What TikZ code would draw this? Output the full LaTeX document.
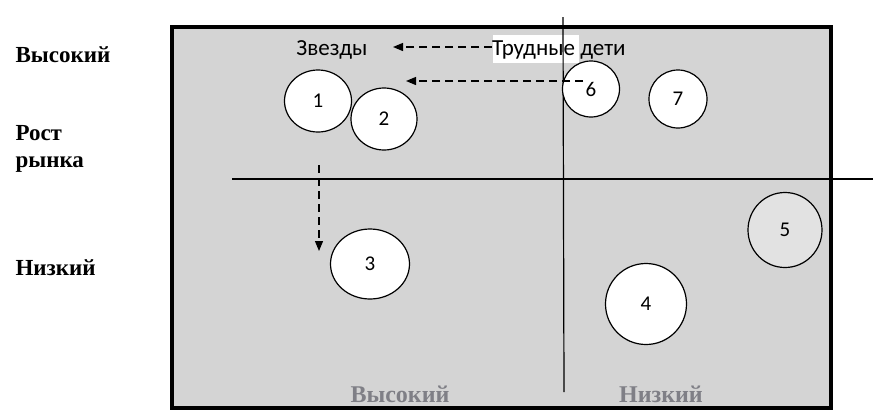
\documentclass[tikz,border=0pt]{standalone}
\usepackage{fontspec}
\setmainfont{Liberation Serif}
\newfontfamily\calib{Carlito}
\usetikzlibrary{shapes.geometric,arrows.meta}
\definecolor{panel}{HTML}{D4D4D4}
\definecolor{lightc}{HTML}{E2E2E2}
\definecolor{axisgray}{HTML}{7F7F86}
\tikzset{
  bub/.style={draw=black, line width=1.2pt, ellipse, fill=white, inner sep=0pt,
    font=\calib\fontsize{21}{24}\selectfont},
  side/.style={font=\bfseries\fontsize{23}{27}\selectfont, anchor=west, align=left},
  bottom/.style={font=\bfseries\fontsize{24}{28}\selectfont, text=axisgray},
  lab/.style={font=\calib\fontsize{23}{26}\selectfont, inner sep=0pt},
  darr/.style={dashed, dash pattern=on 8pt off 5pt, line width=1.2pt, -{Triangle[length=10pt,width=8pt]}},
  axisl/.style={line width=1.2pt}
}
\begin{document}
\begin{tikzpicture}[x=1pt,y=-1pt]
\useasboundingbox (0,0) rectangle (873,413);
% panel
\fill[panel] (172,27) rectangle (831,408);
\fill[white] (493,35) rectangle (579,63);
% axes
\coordinate (hl) at (232,179);
\coordinate (hr) at (873,179);
\coordinate (vt) at (563,17);
\coordinate (vb) at (564,392);
\draw[axisl] (hl) -- (hr);
\draw[axisl] (vt) -- (vb);
\draw[line width=4.5pt] (172,27) rectangle (831,408);
% labels
\node[side] (hi) at (12,55) {Высокий};
\node[side] (grow) at (12,149) {Рост\\[0pt]рынка};
\node[side] (lo) at (12,268) {Низкий};
\node[bottom] (bhi) at (400,394) {Высокий};
\node[bottom] (blo) at (661,394) {Низкий};
\node[lab] (zv) at (332,50) {Звезды};
\node[lab, anchor=west] (td) at (492,50) {Трудные дети};
% bubbles
\node[bub, minimum width=67pt, minimum height=62pt] (c1) at (318,101) {1};
\node[bub, minimum width=66pt, minimum height=62pt] (c2) at (384,119) {2};
\node[bub, minimum width=79pt, minimum height=70pt] (c3) at (370,264) {3};
\node[bub, minimum width=81pt, minimum height=81pt] (c4) at (646,304) {4};
\node[bub, minimum width=74pt, minimum height=75pt, fill=lightc] (c5) at (785,230) {5};
\node[bub, minimum width=57pt, minimum height=56pt] (c6) at (591,89) {6};
\node[bub, minimum width=58pt, minimum height=58pt] (c7) at (678,99) {7};
% arrows
\coordinate (a1e) at (393,47);
\coordinate (a2s) at (583,81);
\coordinate (a2e) at (406,81);
\coordinate (a3s) at (319,165);
\coordinate (a3e) at (319,251);
\draw[darr] (td.west |- a1e) -- (a1e);
\draw[darr] (a2s) -- (a2e);
\draw[darr] (a3s) -- (a3e);
\end{tikzpicture}
\end{document}
